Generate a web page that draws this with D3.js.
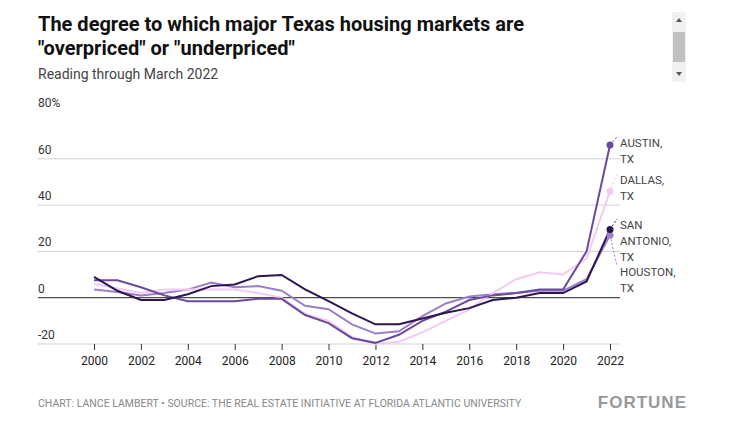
<!DOCTYPE html><html><head><meta charset="utf-8"><script src="https://cdn.jsdelivr.net/npm/d3@7"></script>
<style>body{margin:0;background:#fff;font-family:Roboto,"Liberation Sans",sans-serif}</style></head><body><svg id="c" width="749" height="430"></svg><script>
const years=d3.range(2000,2023);
const austin=[7.5,7.5,4.5,1,-1.5,-1.5,-1.5,-0.5,-0.5,-7.5,-11,-17.5,-19.5,-16,-10,-6,-1,1,2,3.5,3.5,20,66];
const dallas=[6,4,2,3.5,3.5,3.5,3.5,2,0,-7,-10,-17,-20,-19,-15,-10,-5,2,8,11,10,17,46];
const sanAntonio=[9,3,-1,-1,1.5,5,5.7,9.3,9.8,3.6,-1.5,-6.8,-11.5,-11.5,-9,-6.5,-4.5,-1,0,2,2,7,29.5];
const houston=[3.5,2.5,1,2,3.5,6.5,4.5,5,3,-3.5,-5,-11.5,-15.5,-14.5,-8,-2.5,0.5,1.5,2,3,3,8,27];
const series=[
 {name:["HOUSTON,","TX"],v:houston,c:"#9b7fca",ly:276,dot:0},
 {name:["DALLAS,","TX"],v:dallas,c:"#f2caf4",ly:184,dot:1},
 {name:["AUSTIN,","TX"],v:austin,c:"#6a4a9c",ly:147,dot:1},
 {name:["SAN","ANTONIO,","TX"],v:sanAntonio,c:"#2b1553",ly:229,dot:1}];
const yTicks=[-20,0,20,40,60,80];
const svg=d3.select("#c");
const x=d3.scaleLinear().domain([2000,2022]).range([94,610]);
const y=d3.scaleLinear().domain([-20,80]).range([344,112.5]);
svg.append("text").attr("x",38).attr("y",31).attr("font-size",20).attr("font-weight",700).attr("fill","#111").text("The degree to which major Texas housing markets are");
svg.append("text").attr("x",38).attr("y",55).attr("font-size",20).attr("font-weight",700).attr("fill","#111").text('"overpriced" or "underpriced"');
svg.append("text").attr("x",38).attr("y",79).attr("font-size",14).attr("fill","#444").text("Reading through March 2022");
svg.append("rect").attr("x",672).attr("y",12).attr("width",14).attr("height",70).attr("fill","#f1f1f1");
svg.append("rect").attr("x",673).attr("y",32).attr("width",12).attr("height",30).attr("fill","#c1c1c1");
svg.append("path").attr("d","M676,22 L682,22 L679,18Z M676,72 L682,72 L679,76Z").attr("fill","#555");
const g=svg.append("g");
yTicks.forEach(t=>{
 if(t>-20&&t<80)g.append("line").attr("x1",38).attr("x2",620).attr("y1",y(t)).attr("y2",y(t)).attr("stroke",t===0?"#222":"#d0d0d0").attr("stroke-width",1);
 g.append("text").attr("x",38).attr("y",t===80?y(t)-6:y(t)-5).attr("font-size",12).attr("fill","#333").text(t===80?"80%":t);
});
g.append("line").attr("x1",38).attr("x2",620).attr("y1",y(-20)).attr("y2",y(-20)).attr("stroke","#d0d0d0");
const xa=svg.append("g").attr("transform",`translate(0,${y(-20)})`).call(d3.axisBottom(x).tickValues(d3.range(2000,2023,2)).tickFormat(d3.format("d")).tickSize(6).tickPadding(6));
xa.select(".domain").remove();
xa.selectAll("line").attr("stroke","#333");
xa.selectAll("text").attr("font-size",12).attr("fill","#222").attr("font-family","Roboto,sans-serif");
const line=d3.line().x((d,i)=>x(years[i])).y(d=>y(d));
series.forEach(s=>{
 svg.append("path").attr("d",line(s.v)).attr("fill","none").attr("stroke",s.c).attr("stroke-width",2);
});
series.forEach(s=>{
 const last=s.v[s.v.length-1];
 svg.append("circle").attr("cx",x(2022)).attr("cy",y(last)).attr("r",3.5).attr("fill",s.c);
 svg.append("line").attr("x1",x(2022)).attr("y1",y(last)).attr("x2",x(2022)+7).attr("y2",s.ly-10).attr("stroke",s.c).attr("stroke-dasharray","2,2");
 s.name.forEach((n,i)=>svg.append("text").attr("x",620).attr("y",s.ly+i*16).attr("font-size",11.5).attr("fill","#444").attr("font-family","'Liberation Sans Narrow',Roboto,sans-serif").text(n));
});
svg.append("text").attr("x",38).attr("y",407).attr("font-size",10.5).attr("fill","#888").text("CHART: LANCE LAMBERT • SOURCE: THE REAL ESTATE INITIATIVE AT FLORIDA ATLANTIC UNIVERSITY");
svg.append("text").attr("x",687).attr("y",408).attr("text-anchor","end").attr("font-size",17).attr("font-weight",700).attr("fill","#999").attr("letter-spacing",1).attr("font-family","'Liberation Sans Narrow',sans-serif").text("FORTUNE");
</script></body></html>
